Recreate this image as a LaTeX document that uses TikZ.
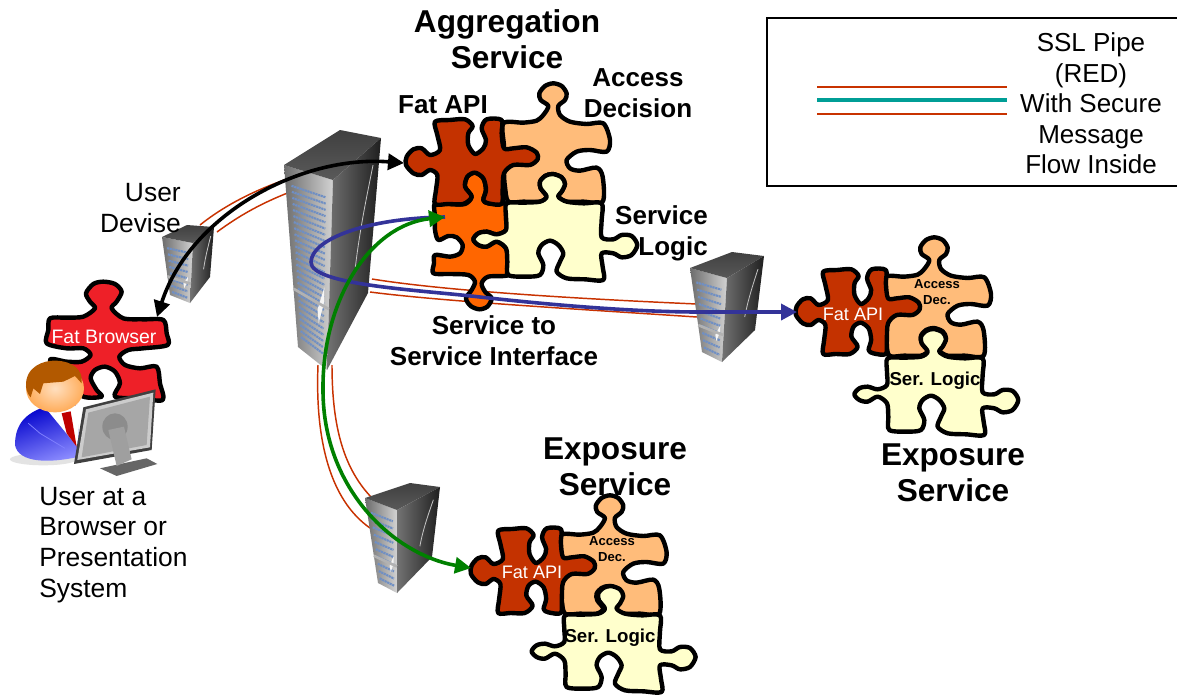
\documentclass[tikz,border=0pt]{standalone}
\usepackage{fontspec}
\setmainfont{Liberation Sans}
\usetikzlibrary{arrows.meta,calc}
\definecolor{fatred}{HTML}{C43200}
\definecolor{peachc}{HTML}{FFBC7A}
\definecolor{lemonc}{HTML}{FFFFCC}
\definecolor{orangec}{HTML}{FF6600}
\definecolor{browserc}{HTML}{EE2028}
\definecolor{flowblue}{HTML}{333399}
\definecolor{flowgreen}{HTML}{008000}
\definecolor{piperedc}{HTML}{C83200}
\definecolor{tealc}{HTML}{009E96}
\definecolor{rowblue}{HTML}{6F8FC4}
\tikzset{
 piece/.style={draw=black,line width=3.3pt,line join=round},
 pipe/.style={draw=piperedc,line width=1.1pt},
 flow/.style={line width=2.7pt,-{Triangle[length=12pt,width=12pt]}},
 flowboth/.style={line width=2.7pt,{Triangle[length=12pt,width=12pt]}-{Triangle[length=12pt,width=12pt]}},
 bigtitle/.style={font=\bfseries\fontsize{23.7}{26.6}\selectfont,align=center,inner sep=0pt,text=black},
 boldlabel/.style={font=\bfseries\fontsize{19.5}{23.2}\selectfont,inner sep=0pt,text=black},
 plainlabel/.style={font=\fontsize{19.8}{23.1}\selectfont,inner sep=0pt,text=black},
 tinybold/.style={font=\bfseries\fontsize{9.8}{11.6}\selectfont,inner sep=0pt,align=center,text=black},
 serbold/.style={font=\bfseries\fontsize{14}{16}\selectfont,inner sep=0pt,text=black},
 whitelabel/.style={font=\fontsize{13.6}{16}\selectfont,inner sep=0pt,text=white},
}
\newcommand\fatapiP[3]{\draw[piece,fill=fatred,shift={(#1,#2)},xscale=#3,yscale=.3333] plot[smooth cycle,tension=.5] coordinates {
 (165,365)(210,360)(255,358)(278,378)(265,400)(265,435)(285,462)(310,445)(318,420)(305,385)(320,358)(365,360)(365,400)(372,445)(400,445)(440,442)(470,458)(473,478)(450,495)(400,495)(372,520)(368,570)(365,612)(325,610)(310,600)(318,570)(310,535)(285,518)(262,530)(255,560)(275,590)(250,612)(205,612)(165,612)(168,570)(172,525)(150,510)(125,525)(100,520)(78,495)(80,470)(100,448)(125,445)(150,465)(180,450)(172,405)};}
\newcommand\peachP[2]{\draw[piece,fill=peachc,shift={(#1,#2)},scale=.3333] plot[smooth cycle,tension=.5] coordinates {
 (370,370)(430,368)(470,362)(490,345)(505,318)(482,300)(478,280)(495,258)(520,250)(545,258)(560,280)(555,300)(535,318)(540,345)(570,365)(620,372)(670,370)(690,420)(680,455)(630,450)(590,455)(560,480)(570,505)(600,512)(650,503)(668,530)(668,605)(610,605)(560,605)(535,590)(545,575)(555,552)(545,532)(518,522)(495,528)(480,545)(482,565)(500,590)(480,605)(430,605)(385,605)(375,560)(372,520)(372,440)};}
\newcommand\lemonP[2]{\draw[piece,fill=lemonc,shift={(#1,#2)},scale=.3333] plot[smooth cycle,tension=.5] coordinates {
 (380,610)(430,608)(480,605)(500,590)(482,565)(480,545)(495,528)(518,522)(545,532)(555,552)(545,575)(535,590)(560,605)(610,610)(665,610)(665,660)(665,712)(700,718)(725,705)(755,708)(772,735)(755,765)(725,772)(700,760)(665,760)(668,800)(670,840)(615,838)(560,835)(530,815)(540,785)(550,760)(535,735)(510,722)(485,735)(475,760)(490,795)(480,825)(440,830)(385,825)(382,785)(378,745)(350,725)(320,740)(295,735)(280,718)(295,700)(320,695)(350,703)(378,690)(378,650)};}
\newcommand\serverbox[8]{%
 \coordinate (sA) at #1; \coordinate (sB) at #2; \coordinate (sC) at #3; \coordinate (sD) at #4;
 \coordinate (sE) at #5; \coordinate (sF) at #6; \coordinate (sG) at #7;
 \shade[left color=gray!85!black,right color=gray!35] (sA)--(sB)--(sC)--(sD)--cycle;
 \shade[top color=black!75,bottom color=black!65] (sA)--(sE)--(sF)--(sB)--cycle;
 \shade[left color=black!55,right color=black!88] (sB)--(sF)--(sG)--(sC)--cycle;
 \coordinate (sL1) at ($(sA)!.13!(sB)$); \coordinate (sL2) at ($(sD)!.13!(sC)$);
 \coordinate (sR1) at ($(sA)!.86!(sB)$); \coordinate (sR2) at ($(sD)!.86!(sC)$);
 \foreach \i in {1,...,#8}{
  \pgfmathsetmacro\tt{.07+.86*\i/#8}
  \draw[rowblue,line width=1.6pt,dash pattern=on 1.6pt off .5pt] ($(sL1)!\tt!(sL2)$) -- ($(sR1)!\tt!(sR2)$);
 }
 \fill[white!92!gray] ($(sL1)!.58!(sL2)!.45!(sR1)!.58!(sR2)$) -- ($(sR1)!.58!(sR2)$) -- ($(sR1)!.66!(sR2)$) -- ($(sL1)!.66!(sL2)!.45!(sR1)!.66!(sR2)$) -- cycle;
 \draw[gray!60,line width=2pt] ($(sA)!.68!(sD)$) -- ($(sB)!.68!(sC)$);
 \draw[gray!45,line width=.6pt] ($(sB)!.5!(sC)!.25!(sF)!.5!(sG)$) .. controls ($(sB)!.35!(sC)!.5!(sF)!.35!(sG)$) and ($(sB)!.25!(sC)!.7!(sF)!.25!(sG)$) .. ($(sB)!.12!(sC)!.85!(sF)!.12!(sG)$);
}
\begin{document}
\begin{tikzpicture}[x=.75pt,y=-.75pt]
\useasboundingbox (0,0) rectangle (1177,694);
\fill[white] (0,0) rectangle (1177,694);

% endpoints
\coordinate (userEnd) at (157,317);
\coordinate (apiPort) at (404,163);
\coordinate (orangePort) at (445,217);
\coordinate (rightPort) at (797,312);
\coordinate (lowerPort) at (471,568);

% legend
\draw[black,line width=1.7pt] (1177,18) -| (767,186) -- (1177,186);
\coordinate (legA) at (817,87); \coordinate (legB) at (1007,87);
\coordinate (legC) at (817,100); \coordinate (legD) at (1007,100);
\coordinate (legE) at (817,114); \coordinate (legF) at (1007,114);
\draw[pipe] (legA) -- (legB);
\draw[tealc,line width=3pt] (legC) -- (legD);
\draw[pipe] (legE) -- (legF);
\node[plainlabel,align=center,font=\fontsize{19.5}{22.9}\selectfont] (legendText) at (1091,103.5) {SSL Pipe\\(RED)\\With Secure\\Message\\Flow Inside};

% titles
\node[bigtitle] (aggTitle) at (507,39) {Aggregation\\Service};
\node[bigtitle] (expRight) at (953,473) {Exposure\\Service};
\node[bigtitle] (expLow) at (615,467) {Exposure\\Service};

% SSL pipes
\draw[pipe] (200,225) .. controls (225,205) and (255,190) .. (290,178);
\draw[pipe] (217,232) .. controls (240,215) and (262,203) .. (290,192);
\draw[pipe] (372,279) .. controls (440,290) and (560,298) .. (697,304);
\draw[pipe] (370,292) .. controls (440,301) and (560,308) .. (697,317);
\draw[pipe] (318,365) .. controls (315,440) and (330,500) .. (370,528);
\draw[pipe] (332,365) .. controls (332,430) and (345,470) .. (372,498);

% servers
\serverbox{(284,165)}{(333,180)}{(327,370)}{(298,347)}{(340,130)}{(381,138)}{(368,293)}{26}
\serverbox{(162,237)}{(193,243)}{(190,303)}{(170,295)}{(187,225)}{(214,227)}{(210,277)}{8}
\serverbox{(690,268)}{(727,278)}{(722,362)}{(702,352)}{(732,252)}{(764,256)}{(755,330)}{10}
\serverbox{(365,498)}{(397,510)}{(397,593)}{(378,583)}{(410,483)}{(440,487)}{(432,557)}{10}

% labels under pieces
\node[boldlabel,align=center] (accessLbl) at (638,93) {Access\\Decision};
\node[boldlabel] (fatLbl) at (443,105) {Fat API};

% aggregation cluster
\peachP{380}{0}
\draw[piece,fill=orangec,shift={(380,0)},scale=.3333] plot[smooth cycle,tension=.5] coordinates {
 (165,610)(210,612)(255,612)(275,590)(255,560)(262,530)(285,518)(310,535)(318,570)(310,600)(325,610)(375,610)(378,650)(378,690)(350,703)(320,695)(295,700)(280,718)(295,735)(320,740)(350,725)(378,745)(385,785)(385,825)(325,830)(305,850)(315,875)(335,895)(322,920)(298,928)(272,918)(258,895)(275,870)(285,845)(265,825)(210,822)(160,820)(162,790)(165,765)(210,770)(240,760)(248,735)(230,712)(205,708)(175,720)(165,690)(165,650)};
\lemonP{380}{0}
\fatapiP{380}{0}{.3333}
\node[boldlabel,align=right,anchor=east] (logicLbl) at (708,233) {Service\\Logic};
\node[boldlabel,align=center] (s2sLbl) at (494,341) {Service to\\Service Interface};

% right cluster
\peachP{761}{154}
\lemonP{761}{155}
\fatapiP{771.5}{150}{.3133}
\node[whitelabel] (apiR) at (853,314) {Fat API};
\node[tinybold] (accR) at (937,292) {Access\\Dec.};
\node[serbold] (serR) at (935,381) {Ser. Logic};

% lower cluster
\peachP{436.6}{412}
\lemonP{438.3}{412}
\fatapiP{446.5}{409}{.3133}
\node[whitelabel] (apiL) at (532,572) {Fat API};
\node[tinybold] (accL) at (612,549) {Access\\Dec.};
\node[serbold] (serL) at (610,638) {Ser. Logic};

% fat browser
\draw[piece,fill=browserc,shift={(0,170)},scale=.3333] plot[smooth cycle,tension=.5] coordinates {
 (150,445)(200,443)(250,440)(285,415)(270,395)(258,370)(280,342)(310,335)(345,342)(365,365)(350,395)(335,415)(370,445)(430,448)(490,450)(500,490)(503,525)(430,535)(385,540)(358,560)(375,585)(420,595)(470,590)(480,640)(488,690)(420,685)(345,680)(360,640)(345,605)(315,590)(285,600)(272,625)(290,660)(305,680)(250,680)(200,640)(150,570)(200,575)(245,575)(272,555)(250,535)(200,535)(140,520)(145,480)};
\node[font=\fontsize{14.6}{17}\selectfont,inner sep=0pt,text=white] (browserLbl) at (104,337) {Fat Browser};

% user figure
\begin{scope}[shift={(0,170)},scale=.3333]
 \fill[gray!22] (130,868) ellipse (100 and 18);
 \shade[left color=blue!80!black,right color=blue!45!white,shading angle=20] (45,825) .. controls (45,760) and (80,730) .. (130,712) -- (232,705) -- (238,860) .. controls (150,880) and (55,880) .. cycle;
 \fill[white] (135,712) -- (240,705) -- (232,830) -- cycle;
 \fill[red!75!black] (185,730) -- (212,724) -- (230,830) -- (200,790) -- cycle;
 \draw[blue!50!white,line width=.6pt] (120,790) -- (85,760) (120,790) -- (195,835);
 \shade[inner color=orange!25!white,outer color=orange!65!white] (165,655) ellipse (87 and 72);
 \fill[orange!70!black] (78,650) .. controls (75,590) and (130,570) .. (170,572) .. controls (220,575) and (250,600) .. (245,640) -- (225,618) -- (190,635) -- (130,640) -- (120,672) -- (100,655) -- (92,682) .. controls (85,675) and (80,665) .. cycle;
 \fill[black!60] (300,895) -- (350,918) -- (472,882) -- (440,865) -- cycle;
 \fill[black!75] (222,882) -- (250,712) -- (467,658) -- (455,840) -- cycle;
 \fill[gray!40] (232,870) -- (258,718) -- (460,668) -- (450,832) -- cycle;
 \fill[gray!70] (265,728) -- (450,680) -- (440,825) -- (245,862) -- cycle;
 \fill[gray!90] (345,770) ellipse (38 and 40);
 \fill[gray!75] (325,780) -- (372,770) -- (395,868) -- (350,888) -- cycle;
\end{scope}

% flows
\draw[black,flowboth] (userEnd) .. controls (190,215) and (300,155) .. (apiPort);
\draw[flowblue,flow] (orangePort) .. controls (370,218) and (312,238) .. (311,262) .. controls (310,285) and (420,290) .. (480,297) .. controls (560,306) and (640,312) .. (700,312) -- (rightPort);
\draw[flowgreen,flowboth] (lowerPort) .. controls (395,555) and (323,490) .. (323,390) .. controls (322,300) and (370,225) .. (orangePort);

% remaining labels
\node[plainlabel,align=right,anchor=east] (deviseLbl) at (181,208) {User\\Devise};
\node[plainlabel,align=left,anchor=west] (userLbl) at (39,545) {User at a\\Browser or\\Presentation\\System};
\end{tikzpicture}
\end{document}
